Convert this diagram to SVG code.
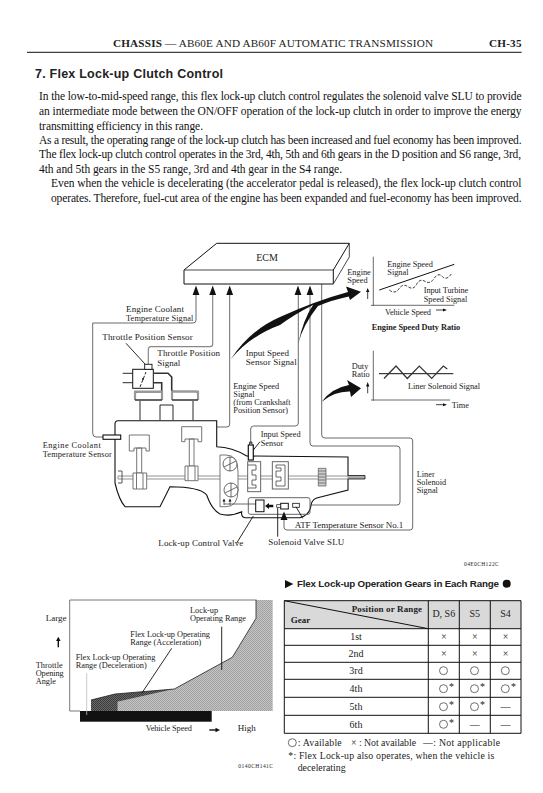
<svg xmlns="http://www.w3.org/2000/svg" width="543" height="793" viewBox="0 0 543 793">
<style>
text{font-family:"Liberation Serif","Times New Roman",serif;fill:#222}
.b{font-size:11.5px;fill:#111}
.l{font-size:9px}
.s{font-size:8.3px}
.t{font-size:10px}
.w{font-weight:bold}
.ln{fill:none;stroke:#444;stroke-width:.8}
.g{fill:none;stroke:#888;stroke-width:1.2}
.k{fill:none;stroke:#111;stroke-width:.9}
.d{fill:none;stroke:#333;stroke-width:1.6}
.m{text-anchor:middle}
.c{fill:#fff;stroke:#444;stroke-width:.8}
</style>
<defs>
<pattern id="lt" width="2" height="2" patternUnits="userSpaceOnUse"><rect width="2" height="2" fill="#c4c4c4"/><rect width="1" height="1" fill="#a2a2a2"/><rect x="1" y="1" width="1" height="1" fill="#a2a2a2"/></pattern>
<pattern id="dk" width="2" height="2" patternUnits="userSpaceOnUse"><rect width="2" height="2" fill="#6a6a6a"/><rect width="1" height="1" fill="#3a3a3a"/><rect x="1" y="1" width="1" height="1" fill="#3a3a3a"/></pattern>
</defs>
<rect width="543" height="793" fill="#fff"/>

<g id="page-header">
<text x="113" y="47" font-size="11.2" textLength="320"><tspan font-weight="bold">CHASSIS</tspan> — AB60E AND AB60F AUTOMATIC TRANSMISSION</text>
<text x="489" y="46.5" font-size="11.2" font-weight="bold" textLength="32.5">CH-35</text>
<line x1="27" y1="52.3" x2="521.7" y2="52.3" stroke="#111" stroke-width="1"/>
<text x="35" y="77.7" font-size="12.5" font-weight="bold" textLength="188" style="font-family:'Liberation Sans',Arial,sans-serif">7. Flex Lock-up Clutch Control</text>
</g>
<g id="body-text">
<text class="b" x="39" y="100.3" textLength="482.5">In the low-to-mid-speed range, this flex lock-up clutch control regulates the solenoid valve SLU to provide</text>
<text class="b" x="39" y="115" textLength="482.5">an intermediate mode between the ON/OFF operation of the lock-up clutch in order to improve the energy</text>
<text class="b" x="39" y="130" textLength="164">transmitting efficiency in this range.</text>
<text class="b" x="39" y="144" textLength="482.5">As a result, the operating range of the lock-up clutch has been increased and fuel economy has been improved.</text>
<text class="b" x="39" y="158.3" textLength="482">The flex lock-up clutch control operates in the 3rd, 4th, 5th and 6th gears in the D position and S6 range, 3rd,</text>
<text class="b" x="39" y="173" textLength="303">4th and 5th gears in the S5 range, 3rd and 4th gear in the S4 range.</text>
<text class="b" x="51" y="187" textLength="470.5">Even when the vehicle is decelerating (the accelerator pedal is released), the flex lock-up clutch control</text>
<text class="b" x="51" y="202" textLength="470.5">operates. Therefore, fuel-cut area of the engine has been expanded and fuel-economy has been improved.</text>
</g>

<g id="connectors">
<path class="ln" d="M196 295V320Q196 323 193 323H92.7V433Q92.7 437 96 437H103"/>
<path class="g" d="M212.7 295V344Q212.7 346.7 210 346.7H151Q148.3 346.7 148.3 350V364.5"/>
<path class="ln" d="M229.7 295V424Q229.7 427 227 427H217"/>
<path class="ln" d="M298.3 295V423Q298.3 426 295 426H253.5Q250.7 426 250.7 429V442"/>
<path class="ln" d="M310 295V443Q310 446 313 446H397Q400 446 400 449V502Q400 505 397 505H298"/>
<path class="ln" d="M321.7 284V435Q321.7 438 325 438H410Q412.7 438 412.7 441V527Q412.7 530 410 530H287Q284 530 284 527V518"/>
<path d="M196 285.5L192.6 295H199.4Z M212.7 285.5L209.3 295H216.1Z M229.7 285.5L226.3 295H233.1Z M298 285.5L294.6 295H301.4Z M310 285.5L306.6 295H313.4Z" fill="#111"/>
<path d="M230.7 359.3Q250 330 280 317Q315 301 348 292L346 286.5L361 291.7L350 300L348.8 296.5Q332 300 318 306Q303 325 298.3 343.3Q303 320 313 305Q295 314 280 325Q250 336 230.7 359.3Z" fill="#111"/>
<path d="M321.7 401.7Q332 388 349 385L347 380L361 388.3L351 397L350 391.5Q335 391 321.7 401.7Z" fill="#111"/>
</g>

<g id="ecm">
<path d="M184 270L216.7 243.3H349.3L333.3 270V284H184Z" fill="#fff" stroke="#111" stroke-width="1"/>
<path d="M184 270H333.3M349.3 243.3V257L333.3 284" fill="none" stroke="#333" stroke-width=".9"/>
<text class="t m" x="267" y="260.7">ECM</text>
</g>

<g id="graph-engine-speed">
<path class="ln" d="M373.3 256.7V306M371 305.3H454.3"/>
<path d="M379.3 290L454.3 264.3" stroke="#111" stroke-width="1" fill="none"/>
<path d="M389.3 290Q395 294.5 398.9 288.9Q402.7 283 408 286.7Q413.3 290.5 416.7 284.2Q420 278 425 281.4Q430 284.5 434.2 278.4Q438.3 272 442.5 276.7Q446.7 281 451.7 273.3" fill="none" stroke="#222" stroke-width=".9" stroke-dasharray="3 1.5"/>
<path d="M367.7 299V290" stroke="#111" stroke-width=".8"/><path d="M367.7 288L366 292H369.4Z" fill="#111"/>
<path d="M436 310H444" stroke="#111" stroke-width=".8"/><path d="M447 310L443 308.5V311.5Z" fill="#111"/>
<text class="s" x="347.3" y="274.7">Engine</text><text class="s" x="347.3" y="282.7">Speed</text>
<text class="s" x="387.3" y="266.7" textLength="45.5">Engine Speed</text><text class="s" x="387.3" y="275">Signal</text>
<text class="s" x="423.7" y="292.7" textLength="44.5">Input Turbine</text><text class="s" x="423.7" y="301.7" textLength="43.5">Speed Signal</text>
<text class="s" x="385" y="314.7" textLength="46">Vehicle Speed</text>
<text class="s w" x="371.7" y="329.7" textLength="88.5">Engine Speed Duty Ratio</text>
</g>

<g id="graph-duty-ratio">
<path class="ln" d="M373.3 350.7V400.7M371 400H450"/>
<path d="M379 373.7H453.3" stroke="#111" stroke-width="1" fill="none"/>
<path d="M384 378.5L396 366L407.3 378.5L419.3 366L431.7 378.5L443.3 366L447.3 369" fill="none" stroke="#333" stroke-width="1.2"/>
<path d="M367.7 393.3V385" stroke="#111" stroke-width=".8"/><path d="M367.7 382L366 386.5H369.4Z" fill="#111"/>
<path d="M436 404.7H444" stroke="#111" stroke-width=".8"/><path d="M447 404.7L443 403.2V406.2Z" fill="#111"/>
<text class="s" x="351.7" y="368.7">Duty</text><text class="s" x="351.7" y="376.7">Ratio</text>
<text class="s" x="408" y="388.7" textLength="72">Liner Solenoid Signal</text>
<text class="s" x="451.7" y="407.7">Time</text>
</g>

<g id="throttle-sensor">
<rect x="132.7" y="369.3" width="20.6" height="19" fill="#fff" stroke="#111" stroke-width="1"/>
<rect x="144.7" y="364.3" width="7.3" height="5" fill="#fff" stroke="#111" stroke-width=".9"/>
<path d="M122.7 373.3H132.7M122.7 382.7H132.7" class="k"/>
<path d="M140 387L146 372" stroke="#111" stroke-width=".9" stroke-dasharray="3 1.5"/><circle cx="143" cy="379" r="1" fill="#111"/>
<path d="M153.3 373.3H168L171.7 377V389.5Q171.7 391.5 174 391.5H196Q198 391.5 198 394V400M153.3 382.7H161.7V391.7H137Q135 391.7 135 394V400" class="d"/>
<path d="M126 343.3L145 364" class="k"/>
<text class="l" x="102.3" y="340" textLength="90.4">Throttle Position Sensor</text>
<text class="l" x="157.3" y="355.7" textLength="62.7">Throttle Position</text>
<text class="l" x="157.3" y="365.7">Signal</text>
</g>

<g id="transmission">
<path d="M115 424Q115 420.7 118 420.7H216.7V446.7Q232 447 246.7 456L348 457V490L316.7 498Q311.7 500 311 505Q310 515 300 517.7H245Q241 517 241.7 511.7Q230 517 220 514Q212 510 206.7 495Q200 486.7 170 486.7L160 506.7H125Q119 500 115 483Z" fill="#fff" stroke="#111" stroke-width="1.1"/>
<path d="M135 400V391.5H162V400M172 400V391.5H198V400" fill="none" stroke="#999" stroke-width="2.2"/>
<path d="M140 420V401M193 420V401M160 420V405H173V420" class="k"/>
<path d="M135 400H162M172 400H198" class="d"/>
<path d="M118 476H348V479H118Z" fill="#fff" stroke="#777" stroke-width=".8"/>
<path d="M348 475.5H365V479H348" fill="#aaa" stroke="#111" stroke-width=".8"/>
<path d="M118 471H122V483H118" fill="none" stroke="#555" stroke-width="1"/>
<path d="M129.3 435H149.3V451H146V448H134V451H129.3Z M136.7 448H141.7V473H136.7Z" fill="#fff" stroke="#666" stroke-width=".9"/>
<path d="M133 473H146.7V489H133Z M136.5 473V489M143 473V489" fill="#fff" stroke="#666" stroke-width=".9"/>
<path d="M181.7 426.7H201.7V441.7H198V439H185V441.7H181.7Z M189.3 439H194V466H189.3Z" fill="#fff" stroke="#666" stroke-width=".9"/>
<path d="M185 466H198V480.7H185Z M188 466V480.7M195 466V480.7" fill="#fff" stroke="#666" stroke-width=".9"/>
<path d="M220 455H226Q238 455 238 472V490Q238 506.7 226 506.7H220Z" fill="#fff" stroke="#666" stroke-width=".9"/>
<circle cx="230" cy="464" r="7" class="c"/><path d="M230 457V471M224 467L236 461" class="ln"/>
<circle cx="231" cy="490" r="7" class="c"/><path d="M231 483V497M225 493L237 487" class="ln"/>
<rect x="247.7" y="461.7" width="13" height="30" fill="#fff" stroke="#555" stroke-width=".9"/>
<path d="M248 465H256V470H252V475H256V480H252V485H256V488H248" class="ln"/>
<rect x="272.3" y="461.7" width="16" height="27.3" fill="#fff" stroke="#555" stroke-width=".9"/>
<path d="M276 465H285V486H276V481H281V477H276V471H281V468H276Z" class="ln"/>
<path d="M318.3 468.3H326V486H318.3Z M318.3 471H326M318.3 474H326M318.3 477H326M318.3 480H326M318.3 483H326" fill="#ccc" stroke="#555" stroke-width=".7"/>
<rect x="248.3" y="497.7" width="61.7" height="16.6" rx="2" fill="none" stroke="#555" stroke-width=".9"/>
<path d="M224 505V501M230 505V501M224 504H256" class="ln"/>
<path d="M224 498.5L222.5 501.5H225.5Z M230 498.5L228.5 501.5H231.5Z" fill="#111"/>
<text class="s" x="42.7" y="448.3" textLength="58">Engine Coolant</text>
<text class="s" x="42.7" y="457.3" textLength="69">Temperature Sensor</text>
</g>

<g id="coolant-sensor"><rect x="103" y="435" width="17.7" height="4.3" fill="#fff" stroke="#111" stroke-width="1.1"/></g>

<g id="input-speed-sensor">
<rect x="248.3" y="445" width="5" height="15" fill="#fff" stroke="#111" stroke-width="1.2"/>
<path d="M249.5 445V442H252V445" fill="#888" stroke="#111" stroke-width=".7"/>
<path d="M260 441.7L253.3 450" class="k"/>
<text class="s" x="260.7" y="437">Input Speed</text><text class="s" x="260.7" y="446">Sensor</text>
</g>

<g id="lockup-valve">
<rect x="255.7" y="500" width="8.3" height="11.7" fill="#fff" stroke="#111" stroke-width="1"/>
<path d="M253.3 516L236.7 543" class="k"/>
<path d="M273.3 504.8H269V503L265 506L269 509V507.2H273.3Z" fill="#111"/>
<text class="l" x="158.3" y="545.7" textLength="85">Lock-up Control Valve</text>
</g>
<g id="solenoid-slu">
<rect x="280.7" y="503.3" width="7.6" height="5.7" fill="#fff" stroke="#111" stroke-width="1"/>
<rect x="276.7" y="504.7" width="4" height="2.6" fill="#fff" stroke="#111" stroke-width=".7"/>
<path d="M277.7 508V536.7" class="k"/>
<path d="M284 511.5L280.5 520H287.5Z" fill="#111"/>
<text class="l" x="268.3" y="545.3" textLength="76">Solenoid Valve SLU</text>
</g>
<g id="atf-sensor">
<rect x="292.7" y="503.3" width="6.6" height="4" fill="#fff" stroke="#111" stroke-width=".8"/>
<path d="M296 506.7L302.7 518.3" class="k"/>
<text class="l" x="294.7" y="527.7" textLength="108.6">ATF Temperature Sensor No.1</text>
</g>

<g id="diagram-labels">
<text class="l" x="126" y="311.7" textLength="58">Engine Coolant</text>
<text class="s" x="126" y="320.7" textLength="67.3">Temperature Signal</text>
<text class="l" x="245.7" y="356">Input Speed</text><text class="l" x="245.7" y="364.7" textLength="51">Sensor Signal</text>
<text class="s" x="233.3" y="389">Engine Speed</text><text class="s" x="233.3" y="396.7">Signal</text>
<text class="s" x="233.3" y="404.5">(from Crankshaft</text><text class="s" x="233.3" y="412.7">Position Sensor)</text>
<text class="s" x="416.7" y="476.7">Liner</text><text class="s" x="416.7" y="484.7">Solenoid</text><text class="s" x="416.7" y="492.7">Signal</text>
<text x="464" y="565.7" font-size="5.5" textLength="34.7">04E0CH122C</text>
</g>

<g id="range-graph">
<path d="M69.7 711V600H256.7" fill="none" stroke="#555" stroke-width=".8"/>
<path d="M117.7 711V701.7L174.3 689L232.3 657.3L256 618.3V600H272.7V711Z" fill="url(#lt)"/>
<path d="M91 711V700L115 694L174.3 689L117.7 701.7V711Z" fill="url(#dk)"/>
<path d="M91 700L115 694L174.3 689L232.3 657.3L256 618.3V600" fill="none" stroke="#222" stroke-width=".8"/>
<path d="M69.7 711H80" stroke="#555" stroke-width=".8"/>
<rect x="80" y="711" width="131.7" height="10.7" fill="#111"/>
<path d="M86.7 673.3V715" stroke="#bbb" stroke-width=".8"/>
<path d="M171.7 648.3L141.7 693.3" class="k"/>
<path d="M221.7 626.7V670" class="k"/>
<path d="M58.3 647.3V640" stroke="#111" stroke-width="1.4"/><path d="M58.3 636.7L56 641H60.6Z" fill="#111"/>
<path d="M209.3 730H216" stroke="#111" stroke-width="1.4"/><path d="M220 730L215.5 727.7V732.3Z" fill="#111"/>
<text class="l" x="45.7" y="621">Large</text>
<text class="s" x="35.7" y="667.7" textLength="27">Throttle</text><text class="s" x="35.7" y="676" textLength="28">Opening</text><text class="s" x="35.7" y="684.3">Angle</text>
<text class="s" x="190" y="612.7">Lock-up</text><text class="s" x="190" y="621" textLength="56">Operating Range</text>
<text class="s" x="130.3" y="636.7" textLength="79.7">Flex Lock-up Operating</text><text class="s" x="130.3" y="645" textLength="71">Range (Acceleration)</text>
<text class="s" x="75.7" y="660" textLength="79.7">Flex Lock-up Operating</text><text class="s" x="75.7" y="668.3" textLength="71">Range (Deceleration)</text>
<text class="s" x="145.7" y="731" textLength="46.3">Vehicle Speed</text>
<text class="l" x="237.7" y="731">High</text>
<text x="238.3" y="767.7" font-size="5.5" textLength="34.7">0140CH141C</text>
</g>

<g id="gear-table">
<path d="M285 580L293.3 584L285 588.3Z" fill="#111"/>
<text x="297" y="586.7" font-size="9.8" font-weight="bold" textLength="202" style="font-family:'Liberation Sans',Arial,sans-serif">Flex Lock-up Operation Gears in Each Range</text>
<circle cx="506.7" cy="583.7" r="4" fill="#111"/>
<rect x="284.3" y="600.7" width="236.7" height="28" fill="#d9d9d9"/>
<path d="M284.3 600.7H521V733.3H284.3ZM284.3 628.7H521M284.3 645.3H521M284.3 662.3H521M284.3 679.3H521M284.3 697.3H521M284.3 715.3H521M428.3 600.7V733.3M459.3 600.7V733.3M490.3 600.7V733.3" fill="none" stroke="#111" stroke-width="1"/>
<path d="M284.3 600.7L428.3 628.7" stroke="#111" stroke-width="1"/>
<text class="l w" x="351.7" y="611.7" textLength="70.3">Position or Range</text>
<text class="l w" x="290.7" y="622.7">Gear</text>
<text class="t m" x="443.8" y="617.3">D, S6</text><text class="t m" x="474.8" y="617.3">S5</text><text class="t m" x="505.6" y="617.3">S4</text>
<text class="t m" x="356" y="640">1st</text><text class="t m" x="356" y="656.7">2nd</text><text class="t m" x="356" y="673.7">3rd</text><text class="t m" x="356" y="691.7">4th</text><text class="t m" x="356" y="709.7">5th</text><text class="t m" x="356" y="727.7">6th</text>
<g font-size="10" text-anchor="middle">
<text x="443.8" y="640.3">×</text><text x="474.8" y="640.3">×</text><text x="505.6" y="640.3">×</text>
<text x="443.8" y="657.3">×</text><text x="474.8" y="657.3">×</text><text x="505.6" y="657.3">×</text>
<text x="505.6" y="710">—</text><text x="474.8" y="727.5">—</text><text x="505.6" y="727.5">—</text>
</g>
<g fill="none" stroke="#333" stroke-width=".7">
<circle cx="443.5" cy="670.7" r="4"/><circle cx="474.5" cy="670.7" r="4"/><circle cx="505.3" cy="670.7" r="4"/>
<circle cx="443.5" cy="688.7" r="4"/><circle cx="474.5" cy="688.7" r="4"/><circle cx="505.3" cy="688.7" r="4"/>
<circle cx="443.5" cy="706.7" r="4"/><circle cx="474.5" cy="706.7" r="4"/>
<circle cx="443.5" cy="724.3" r="4"/>
<circle cx="292.3" cy="742.7" r="4"/>
</g>
<g font-size="10">
<text x="449" y="690">*</text><text x="480" y="690">*</text><text x="511" y="690">*</text>
<text x="449" y="708">*</text><text x="480" y="708">*</text>
<text x="449" y="725.5">*</text>
</g>
<text x="297.7" y="745.7" font-size="9.8" textLength="44">: Available</text>
<text x="351" y="745.7" font-size="9.8">×</text>
<text x="359" y="745.7" font-size="9.8" textLength="57">: Not available</text>
<text x="423" y="745.7" font-size="9.8">—</text>
<text x="433.3" y="745.7" font-size="9.8" textLength="66.7">: Not applicable</text>
<text x="288.3" y="759.3" font-size="9.8" textLength="206">*: Flex Lock-up also operates, when the vehicle is</text>
<text x="297.7" y="770.7" font-size="9.8">decelerating</text>
</g>
</svg>
